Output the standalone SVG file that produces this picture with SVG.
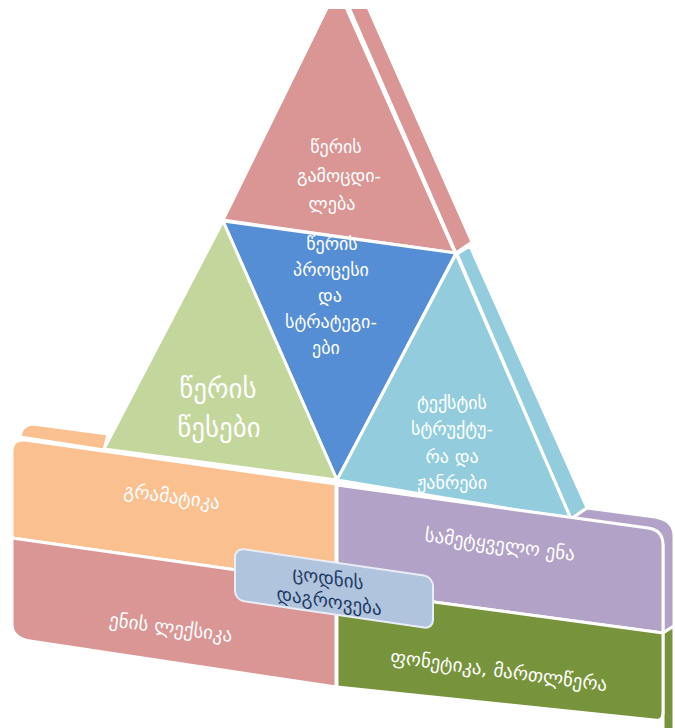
<svg xmlns="http://www.w3.org/2000/svg" width="675" height="728" viewBox="0 0 675 728">
<style>
.f{stroke:#ffffff;stroke-width:3;stroke-linejoin:round}
.t{font-family:"DejaVu Sans","Noto Sans",sans-serif;fill:#ffffff;text-anchor:middle}
.s{font-size:18px}
.l{font-size:27px}
.b{font-size:19px}
.k{font-family:"DejaVu Sans","Noto Sans",sans-serif;fill:#1f3b63;text-anchor:middle;font-size:19px}
</style>
<defs>
<clipPath id="cut"><rect x="0" y="9" width="675" height="719"/></clipPath>
</defs>
<rect width="675" height="728" fill="#ffffff"/>
<g id="pyramid">
<g id="top">
<g clip-path="url(#cut)">
<polygon class="f" points="344,-4 363,-4 472,242 456,253" fill="#d99694"/>
<polygon class="f" points="333,-4 341,-4 455,253 223,220" fill="#d99694"/>
</g>
<text class="t s" x="336" y="153">წერის</text>
<text class="t s" x="339" y="182">გამოცდი-</text>
<text class="t s" x="332" y="210">ლება</text>
</g>
<g id="process">
<polygon class="f" points="223,221 456,253 337,480" fill="#558ed5"/>
<text class="t s" x="332" y="250">წერის</text>
<text class="t s" x="331" y="276">პროცესი</text>
<text class="t s" x="330" y="302">და</text>
<text class="t s" x="331" y="328">სტრატეგი-</text>
<text class="t s" x="326" y="354">ები</text>
</g>
<g id="rules">
<polygon class="f" points="223,221 104,449 337,480" fill="#c3d69b"/>
<text class="t l" x="218" y="398">წერის</text>
<text class="t l" x="219" y="437">წესები</text>
</g>
<g id="structure">
<polygon class="f" points="457,254 470,246 587,508 571,519" fill="#93cddd"/>
<polygon class="f" points="456,254 337,480 571,519" fill="#93cddd"/>
<text class="t s" x="452" y="409">ტექსტის</text>
<text class="t s" x="452" y="435">სტრუქტუ-</text>
<text class="t s" x="452" y="463">რა და</text>
<text class="t s" x="452" y="489">ჟანრები</text>
</g>
</g>
<g id="grammar">
<path class="f" d="M20,437 Q21,425 33,424 L108,434 L104,450 Z" fill="#fac090"/>
<path class="f" d="M12,452 Q12,439 25,440 L336,484 L336,584 L12,538 Z" fill="#fac090"/>
<text class="t b" transform="translate(171,503) rotate(7.5)">გრამატიკა</text>
</g>
<g id="lexicon">
<path class="f" d="M12,538 L336,584 L336,687 L30,641 Q12,638 12,624 Z" fill="#d99694"/>
<text class="t b" transform="translate(170,634) rotate(7.5)">ენის ლექსიკა</text>
</g>
<g id="speech">
<path class="f" d="M571,519 L587,508 L655,517 Q674,520 674,536 L674,626 L663,633 L663,545 Z" fill="#b3a2c7"/>
<path class="f" d="M337,485 L648,528 Q663,530 663,545 L663,633 L337,589 Z" fill="#b3a2c7"/>
<text class="t b" transform="translate(499,551) rotate(7.5)">სამეტყველო ენა</text>
</g>
<g id="phonetics">
<path class="f" d="M663,633 L674,626 L674,730 L663,730 Z" fill="#77933c"/>
<path class="f" d="M337,589 L663,633 L663,712 Q663,722 654,720 L337,687 Z" fill="#77933c"/>
<text class="t b" transform="translate(498,677) rotate(7.5)">ფონეტიკა, მართლწერა</text>
</g>
<g id="knowledge" transform="translate(235,548) skewY(8.3)">
<rect x="0" y="0" width="198" height="52" rx="9" fill="#b0c4de" stroke="#e9eef6" stroke-width="2"/>
<text class="k" x="93" y="23">ცოდნის</text>
<text class="k" x="94" y="46">დაგროვება</text>
</g>
<g id="connectors"></g>
</svg>
